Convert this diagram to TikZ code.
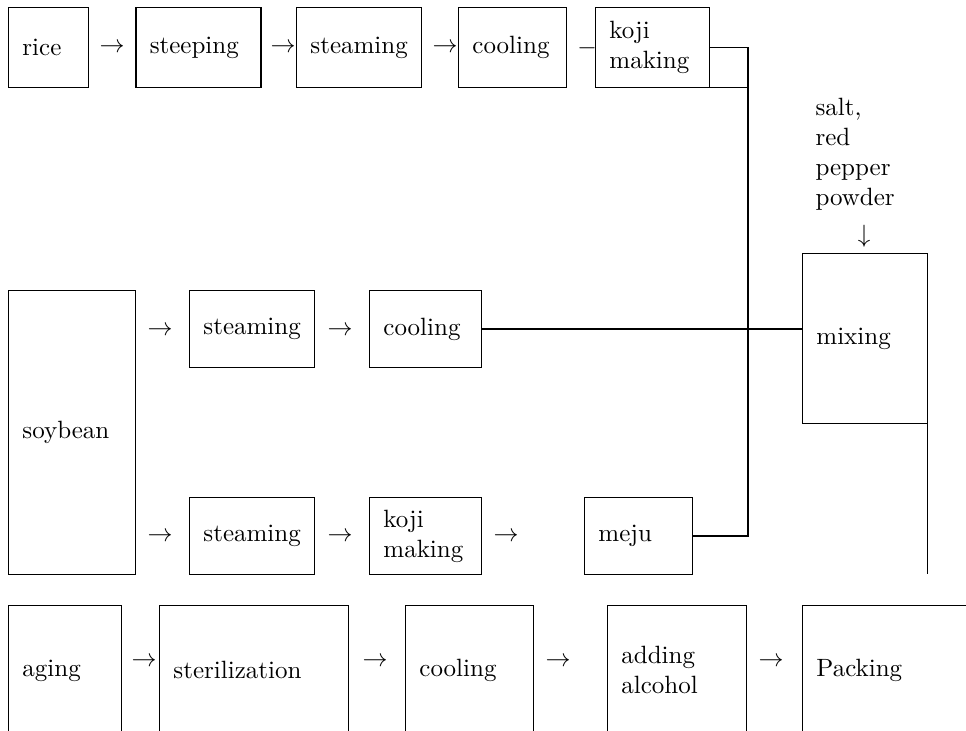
\documentclass[tikz,border=0pt]{standalone}
\usepackage{amsmath}
\usepackage{tikz}
\tikzset{%
  box/.style={draw , fill=white , anchor=north west , align=left , inner xsep=5.6pt , inner ysep=0pt , line width=0.35pt},
  link/.style={line width=0.6pt}
}

\begin{document}
\begin{tikzpicture}[x=0.4pt,y=-0.4pt]
\clip (0,0) rectangle (966,731);
\node (r1) at (112,48) {$\rightarrow$};
\node (r2) at (283,48) {$\rightarrow$};
\node (r3) at (445,48) {$\rightarrow$};
\node (r4) at (587,48) {$-$};
\node[box , minimum width=32pt , minimum height=32pt , text width=20.8pt] (rice) at (8,7) {rice};
\node[box , minimum width=50pt , minimum height=32pt , text width=38.8pt , line width=0.6pt] (steeping) at (135,7) {steeping};
\node[box , minimum width=50pt , minimum height=32pt , text width=38.8pt] (steaming) at (296,7) {steaming};
\node[box , minimum width=43.2pt , minimum height=32pt , text width=32pt] (cooling) at (458,7) {cooling};
\node[box , minimum width=45.6pt , minimum height=32pt , text width=34.4pt] (koji) at (595,7) {koji\\making};
\node[box , minimum width=50.8pt , minimum height=113.6pt , text width=39.6pt] (soybean) at (8,290) {soybean};
\node (s1) at (160,331) {$\rightarrow$};
\node (s2) at (340,331) {$\rightarrow$};
\node[box , minimum width=50pt , minimum height=30.8pt , text width=38.8pt] (steamA) at (189,290) {steaming};
\node[box , minimum width=44.8pt , minimum height=30.8pt , text width=33.6pt] (coolA) at (369,290) {cooling};
\node (t1) at (160,537) {$\rightarrow$};
\node (t2) at (340,537) {$\rightarrow$};
\node (t3) at (506,537) {$\rightarrow$};
\node[box , minimum width=50pt , minimum height=30.8pt , text width=38.8pt] (steamB) at (189,497) {steaming};
\node[box , minimum width=44.8pt , minimum height=30.8pt , text width=33.6pt] (kojiB) at (369,497) {koji\\making};
\node[box , minimum width=43.2pt , minimum height=30.8pt , text width=32pt] (meju) at (584,497) {meju};
\node[anchor=north west , inner sep=0pt , align=left] (salt) at (815,98) {salt,\\red\\pepper\\powder};
\node (down) at (864,236) {$\downarrow$};
\node[box , minimum width=50pt , minimum height=68pt , text width=38.8pt] (mixing) at (802,253) {mixing};
\coordinate (joint) at (748,0);
\coordinate (mixend) at (927,574);
\draw[link] (koji.east) -| (joint |- meju.east) -- (meju.east);
\draw[link] (coolA.east) -- (coolA.east -| mixing.west);
\draw[line width=0.35pt] (koji.south east) -- (koji.south east -| joint);
\draw[line width=0.35pt] (mixing.south east) -- (mixing.south east |- mixend);
\node (b1) at (144,662) {$\rightarrow$};
\node (b2) at (375,662) {$\rightarrow$};
\node (b3) at (558,662) {$\rightarrow$};
\node (b4) at (771,662) {$\rightarrow$};
\node[box , minimum width=45.2pt , minimum height=52pt , text width=34pt] (aging) at (8,605) {aging};
\node[box , minimum width=75.6pt , minimum height=52pt , text width=64.4pt] (steril) at (159,605) {sterilization};
\node[box , minimum width=51.2pt , minimum height=52pt , text width=40pt] (coolC) at (405,605) {cooling};
\node[box , minimum width=55.6pt , minimum height=52pt , text width=44.4pt] (adding) at (607,605) {adding\\alcohol};
\node[box , minimum width=71.2pt , minimum height=52pt , text width=60pt] (packing) at (802,605) {Packing};
\end{tikzpicture}
\end{document}
